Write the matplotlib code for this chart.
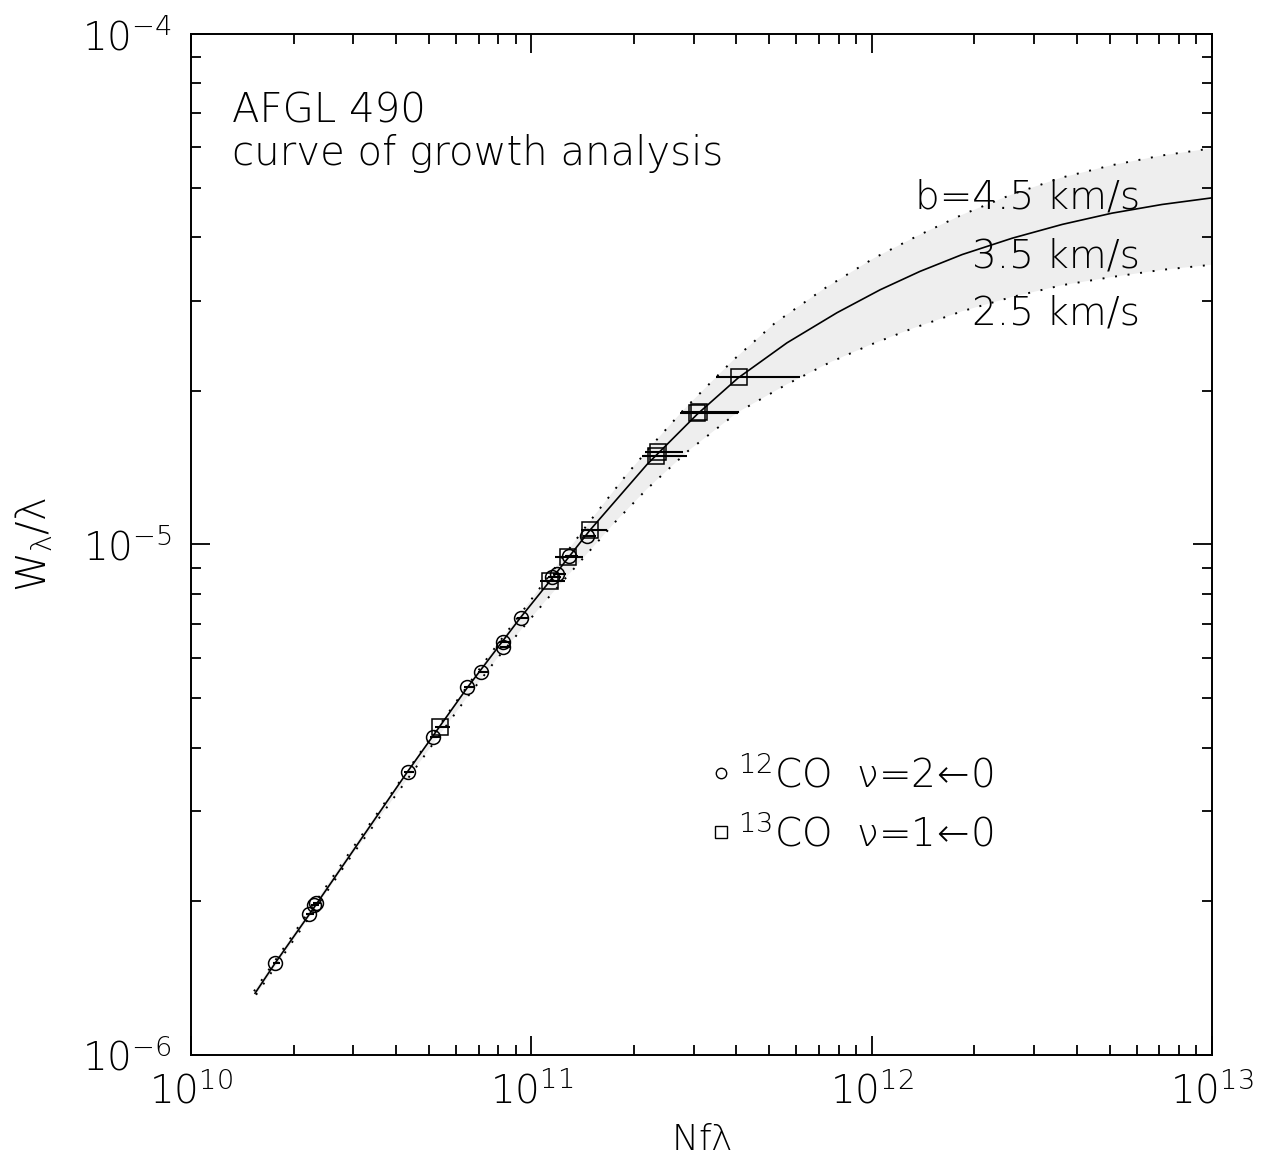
"""Curve of growth for AFGL 490: CO equivalent widths against N f lambda."""

import matplotlib
matplotlib.use("Agg")
import matplotlib.pyplot as plt
import numpy as np
from matplotlib.ticker import LogLocator, NullFormatter

plt.rcParams.update({
    "font.family": ["DejaVu Sans"],
    "font.weight": 200,
    "axes.labelweight": 200,
    "mathtext.fontset": "custom",
    "mathtext.rm": "DejaVu Sans:extralight",
    "mathtext.it": "DejaVu Sans:extralight",
    "mathtext.bf": "DejaVu Sans:bold",
})

# ── model curves (log10 N f lambda, log10 W/lambda) ─────────────────────
cog_b35_lognf = [10.188, 10.247, 10.350, 10.635, 10.811, 10.967, 11.061, 11.172,
                 11.340, 11.487, 11.607, 11.751, 11.898, 12.025, 12.142, 12.266,
                 12.413, 12.560, 12.706, 12.853, 13.000]
cog_b35_logw = [-5.879, -5.820, -5.722, -5.446, -5.281, -5.144, -5.066, -4.972,
                -4.843, -4.745, -4.674, -4.605, -4.546, -4.501, -4.465, -4.432,
                -4.400, -4.373, -4.351, -4.334, -4.321]

cog_b45_lognf = [10.185, 10.467, 10.782, 10.873, 10.943, 11.014, 11.170, 11.281,
                 11.372, 11.449, 11.534, 11.596, 11.716, 11.860, 12.007, 12.133,
                 12.266, 12.413, 12.560, 12.706, 12.853, 13.000]
cog_b45_logw = [-5.875, -5.602, -5.305, -5.220, -5.158, -5.095, -4.956, -4.862,
                -4.792, -4.735, -4.678, -4.637, -4.566, -4.499, -4.439, -4.396,
                -4.354, -4.314, -4.281, -4.257, -4.238, -4.224]

cog_b25_lognf = [10.191, 10.467, 10.799, 10.896, 10.970, 11.046, 11.246, 11.340,
                 11.460, 11.604, 11.751, 11.878, 11.995, 12.119, 12.266, 12.413,
                 12.560, 12.706, 12.853, 13.000]
cog_b25_logw = [-5.882, -5.614, -5.310, -5.226, -5.167, -5.107, -4.956, -4.891,
                -4.817, -4.742, -4.686, -4.643, -4.609, -4.577, -4.543, -4.515,
                -4.492, -4.476, -4.462, -4.452]

# ── 12CO v=2-0 lines ────────────────────────────────────────────────────
co12_lognf = [10.248, 10.346, 10.361, 10.367, 10.636, 10.712, 10.812, 10.851,
              10.916, 10.918, 10.968, 11.060, 11.075, 11.111, 11.163]
co12_logw = [-5.819, -5.724, -5.707, -5.703, -5.445, -5.378, -5.279, -5.250,
             -5.190, -5.200, -5.144, -5.064, -5.058, -5.023, -4.983]
co12_lognf_lo = [10.240, 10.338, 10.353, 10.359, 10.627, 10.703, 10.803, 10.842,
                 10.906, 10.908, 10.958, 11.049, 11.064, 11.100, 11.151]
co12_lognf_hi = [10.262, 10.361, 10.377, 10.383, 10.655, 10.732, 10.833, 10.873,
                 10.939, 10.941, 10.992, 11.086, 11.101, 11.138, 11.191]

# ── 13CO v=1-0 lines ────────────────────────────────────────────────────
co13_lognf = [10.732, 11.055, 11.109, 11.173, 11.366, 11.373, 11.488, 11.492, 11.609]
co13_logw = [-5.357, -5.071, -5.025, -4.972, -4.827, -4.818, -4.743, -4.741, -4.671]
co13_lognf_lo = [10.717, 11.026, 11.070, 11.146, 11.325, 11.334, 11.437, 11.440, 11.543]
co13_lognf_hi = [10.761, 11.099, 11.152, 11.222, 11.458, 11.446, 11.607, 11.610, 11.790]

b_labels = ["b=4.5 km/s", "3.5 km/s", "2.5 km/s"]


def _lin(vals):
    return 10.0 ** np.asarray(vals)


fig = plt.figure(figsize=(12.78, 11.59), dpi=100)
ax = fig.add_axes([0.1495, 0.0897, 0.7989, 0.8810])
ax.set_xscale("log")
ax.set_yscale("log")
ax.set_xlim(1e10, 1e13)
ax.set_ylim(1e-6, 1e-4)

# shaded band between b=4.5 and b=2.5 km/s
band_x = np.concatenate([_lin(cog_b45_lognf), _lin(cog_b25_lognf)[::-1]])
band_y = np.concatenate([_lin(cog_b45_logw), _lin(cog_b25_logw)[::-1]])
ax.fill(band_x, band_y, color="#eeeeee", lw=0, zorder=1)

dots = (0, (1.0, 5.5))
ax.plot(_lin(cog_b45_lognf), _lin(cog_b45_logw), color="k", lw=1.4, ls=dots, zorder=2)
ax.plot(_lin(cog_b25_lognf), _lin(cog_b25_logw), color="k", lw=1.4, ls=dots, zorder=2)
ax.plot(_lin(cog_b35_lognf), _lin(cog_b35_logw), color="k", lw=1.2, zorder=3)

# data with horizontal error bars
for lognf, logw, lo, hi, mk, ms in [
    (co12_lognf, co12_logw, co12_lognf_lo, co12_lognf_hi, "o", 10),
    (co13_lognf, co13_logw, co13_lognf_lo, co13_lognf_hi, "s", 11),
]:
    x = _lin(lognf)
    y = _lin(logw)
    xerr = [x - _lin(lo), _lin(hi) - x]
    ax.errorbar(x, y, xerr=xerr, fmt="none", ecolor="k", elinewidth=1.5,
                capsize=0, zorder=4)
    ax.plot(x, y, mk, ms=ms, mfc="none", mec="k", mew=1.1, zorder=5)

# legend drawn by hand
ax.plot([0.519], [0.276], "o", ms=7.5, mfc="none", mec="k", mew=1.0,
        transform=ax.transAxes)
ax.plot([0.519], [0.218], "s", ms=8.5, mfc="none", mec="k", mew=1.0,
        transform=ax.transAxes)
ax.text(0.536, 0.262, r"$^{12}$CO  ν=2$\!\leftarrow\!$0", fontsize=28,
        transform=ax.transAxes, va="baseline")
ax.text(0.536, 0.204, r"$^{13}$CO  ν=1$\!\leftarrow\!$0", fontsize=28,
        transform=ax.transAxes, va="baseline")

ax.text(0.040, 0.913, "AFGL 490", fontsize=29, transform=ax.transAxes, va="baseline")
ax.text(0.040, 0.872, "curve of growth analysis", fontsize=29,
        transform=ax.transAxes, va="baseline")

for label, yfrac in zip(b_labels, [0.8286, 0.7708, 0.7150]):
    ax.text(0.9295, yfrac, label, fontsize=28, transform=ax.transAxes,
            ha="right", va="baseline", zorder=6)

ax.set_xlabel(r"Nf$\lambda$", fontsize=26, va="center", fontweight=200)
ax.set_ylabel(r"W$_\lambda$/$\lambda$", fontsize=29, fontweight=200)
ax.xaxis.set_label_coords(0.5, -0.083)
ax.yaxis.set_label_coords(-0.133, 0.5)

ax.xaxis.set_minor_locator(LogLocator(base=10, subs=np.arange(2, 10)))
ax.yaxis.set_minor_locator(LogLocator(base=10, subs=np.arange(2, 10)))
ax.xaxis.set_minor_formatter(NullFormatter())
ax.yaxis.set_minor_formatter(NullFormatter())
ax.tick_params(which="both", direction="in", top=True, right=True, width=1.3,
               labelsize=28)
ax.tick_params(which="major", length=14)
ax.tick_params(which="minor", length=7)
ax.tick_params(axis="x", pad=12)
ax.tick_params(axis="y", pad=14)
for sp in ax.spines.values():
    sp.set_linewidth(1.4)

fig.savefig("out.png", dpi=100)
